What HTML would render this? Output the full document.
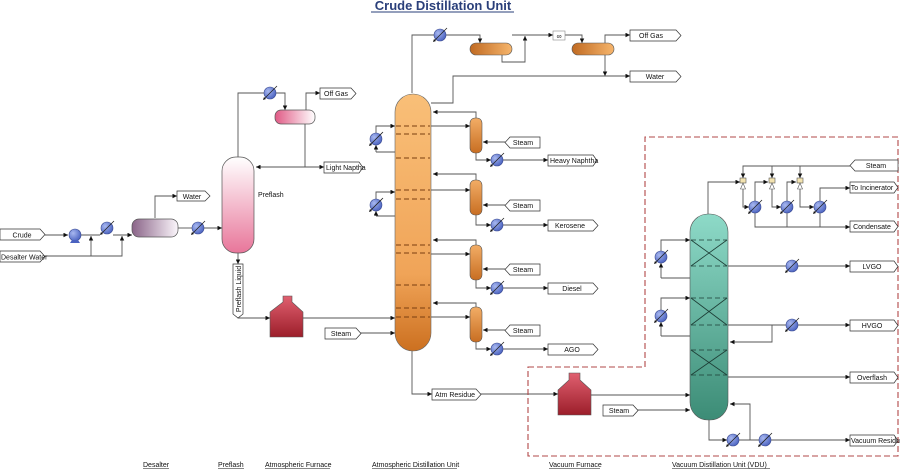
<!DOCTYPE html>
<html><head><meta charset="utf-8"><style>
html,body{margin:0;padding:0;background:#fff}
svg{display:block}
text{font-family:"Liberation Sans",sans-serif;font-size:7px;fill:#111}
</style></head><body>
<svg width="900" height="470" viewBox="0 0 900 470" xmlns="http://www.w3.org/2000/svg">
<defs>
<marker id="a" viewBox="0 0 6 6" refX="6" refY="3" markerWidth="5" markerHeight="5" orient="auto"><path d="M0,0L6,3L0,6z" fill="#111"/></marker>
<radialGradient id="gb" cx="0.35" cy="0.35" r="0.7"><stop offset="0" stop-color="#a8b8f0"/><stop offset="1" stop-color="#4a62c0"/></radialGradient>
<linearGradient id="gpk" x1="0" y1="0" x2="0" y2="1"><stop offset="0" stop-color="#fff"/><stop offset="1" stop-color="#e8769a"/></linearGradient>
<linearGradient id="gpk2" x1="0" y1="0" x2="1" y2="0"><stop offset="0" stop-color="#e05a85"/><stop offset="1" stop-color="#fff"/></linearGradient>
<linearGradient id="gpu" x1="0" y1="0" x2="1" y2="0"><stop offset="0" stop-color="#8a6488"/><stop offset="1" stop-color="#fbf6fb"/></linearGradient>
<linearGradient id="gor" x1="0" y1="0" x2="1" y2="0"><stop offset="0" stop-color="#c06a22"/><stop offset="1" stop-color="#f6b56c"/></linearGradient>
<linearGradient id="gorv" x1="0" y1="0" x2="0" y2="1"><stop offset="0" stop-color="#f2ad66"/><stop offset="1" stop-color="#c86e22"/></linearGradient>
<linearGradient id="gac" x1="0" y1="0" x2="0" y2="1"><stop offset="0" stop-color="#f9bf78"/><stop offset="0.7" stop-color="#f0a458"/><stop offset="1" stop-color="#cc7020"/></linearGradient>
<linearGradient id="gvc" x1="0" y1="0" x2="0" y2="1"><stop offset="0" stop-color="#8edac8"/><stop offset="1" stop-color="#3c8c76"/></linearGradient>
<linearGradient id="gfu" x1="0" y1="0" x2="0" y2="1"><stop offset="0" stop-color="#e06070"/><stop offset="1" stop-color="#9c1e2a"/></linearGradient>
<g id="hx"><circle r="6" fill="url(#gb)" stroke="#3a4a90" stroke-width="0.6"/><line x1="-6" y1="6" x2="7" y2="-7" stroke="#222" stroke-width="0.8"/><path d="M-7,7l1,-3l2,2z" fill="#111"/></g>
<g id="ej"><rect x="-3" y="-4" width="6" height="5" fill="#f2e2b0" stroke="#555" stroke-width="0.6"/><path d="M-2.5,7L0,1L2.5,7z" fill="#fff" stroke="#555" stroke-width="0.6"/></g>
</defs>

<text x="443" y="10" text-anchor="middle" style="font-size:13px;font-weight:bold;fill:#2a3f7a">Crude Distillation Unit</text>
<line x1="371" y1="12" x2="514" y2="12" stroke="#2a3f7a" stroke-width="1"/>

<g fill="none" stroke="#555" stroke-width="0.9">
<!-- desalter area -->
<polyline points="45,235 68,235" marker-end="url(#a)"/>
<polyline points="81,235 100,235"/>
<polyline points="113,235 132,235" marker-end="url(#a)"/>
<polyline points="45,256 122,256 122,236" marker-end="url(#a)"/>
<polyline points="91,256 91,236" marker-end="url(#a)"/>
<polyline points="155,218 155,196 177,196" marker-end="url(#a)"/>
<polyline points="178,228 192,228"/>
<polyline points="204,228 222,228" marker-end="url(#a)"/>
<!-- preflash -->
<polyline points="238,157 238,93 264,93"/>
<polyline points="276,93 285,93 285,110" marker-end="url(#a)"/>
<polyline points="306,110 306,93 320,93" marker-end="url(#a)"/>
<polyline points="305,124 305,167 256,167" marker-end="url(#a)"/>
<polyline points="305,167 324,167" marker-end="url(#a)"/>
<polyline points="238,252 238,264" marker-end="url(#a)"/>
<polyline points="238,317 238,318 270,318" marker-end="url(#a)"/>
<polyline points="303,318 395,318" marker-end="url(#a)"/>
<polyline points="360,333 395,333" marker-end="url(#a)"/>
<!-- atm top -->
<polyline points="412,93 412,35 434,35"/>
<polyline points="446,35 480,35 480,43" marker-end="url(#a)"/>
<polyline points="502,55 502,62 525,62 525,36" marker-end="url(#a)"/>
<polyline points="512,35 553,35" marker-end="url(#a)"/>
<polyline points="565,35 582,35 582,43" marker-end="url(#a)"/>
<polyline points="605,43 605,35 630,35" marker-end="url(#a)"/>
<polyline points="605,55 605,76" marker-end="url(#a)"/>
<polyline points="431,103 453,103 453,76 630,76" marker-end="url(#a)"/>
<!-- atm pumparounds -->
<polyline points="376,133 376,126 395,126" marker-end="url(#a)"/>
<polyline points="376,152 376,145" marker-end="url(#a)"/>
<polyline points="376,152 400,152 400,134"/>
<polyline points="376,199 376,192 395,192" marker-end="url(#a)"/>
<polyline points="376,216 376,211" marker-end="url(#a)"/>
<polyline points="376,216 400,216 400,200"/>
<!-- strippers -->
<polyline points="476,118 476,112 433,112" marker-end="url(#a)"/>
<polyline points="431,126 470,126" marker-end="url(#a)"/>
<polyline points="505,142 483,142" marker-end="url(#a)"/>
<polyline points="476,153 476,160 491,160" marker-end="url(#a)"/>
<polyline points="503,160 548,160" marker-end="url(#a)"/>
<polyline points="476,180 476,174 433,174" marker-end="url(#a)"/>
<polyline points="431,190 470,190" marker-end="url(#a)"/>
<polyline points="505,205 483,205" marker-end="url(#a)"/>
<polyline points="476,215 476,225 491,225" marker-end="url(#a)"/>
<polyline points="503,225 548,225" marker-end="url(#a)"/>
<polyline points="476,245 476,240 433,240" marker-end="url(#a)"/>
<polyline points="431,254 470,254" marker-end="url(#a)"/>
<polyline points="505,269 483,269" marker-end="url(#a)"/>
<polyline points="476,280 476,288 491,288" marker-end="url(#a)"/>
<polyline points="503,288 548,288" marker-end="url(#a)"/>
<polyline points="476,307 476,303 433,303" marker-end="url(#a)"/>
<polyline points="431,317 470,317" marker-end="url(#a)"/>
<polyline points="505,330 483,330" marker-end="url(#a)"/>
<polyline points="476,342 476,349 491,349" marker-end="url(#a)"/>
<polyline points="503,349 548,349" marker-end="url(#a)"/>
<!-- atm residue -->
<polyline points="412,350 412,394 432,394" marker-end="url(#a)"/>
<polyline points="480,394 558,394" marker-end="url(#a)"/>
<polyline points="591,395 690,395" marker-end="url(#a)"/>
<polyline points="636,410 690,410" marker-end="url(#a)"/>
<!-- vac top -->
<polyline points="708,214 708,182 740,182" marker-end="url(#a)"/>
<polyline points="850,166 743,166 743,178" marker-end="url(#a)"/>
<polyline points="772,166 772,178" marker-end="url(#a)"/>
<polyline points="800,166 800,178" marker-end="url(#a)"/>
<polyline points="743,188 743,207 749,207" marker-end="url(#a)"/>
<polyline points="755,201 755,182 768,182" marker-end="url(#a)"/>
<polyline points="772,188 772,207 781,207" marker-end="url(#a)"/>
<polyline points="787,201 787,182 796,182" marker-end="url(#a)"/>
<polyline points="800,188 800,207 814,207" marker-end="url(#a)"/>
<polyline points="820,201 820,188 850,188" marker-end="url(#a)"/>
<polyline points="755,213 755,227 850,227" marker-end="url(#a)"/>
<line x1="787" y1="213" x2="787" y2="227"/>
<line x1="820" y1="213" x2="820" y2="227"/>
<!-- vac pumparounds -->
<polyline points="661,251 661,240 690,240" marker-end="url(#a)"/>
<polyline points="661,278 661,263" marker-end="url(#a)"/>
<polyline points="661,278 695,278 695,266"/>
<polyline points="661,310 661,298 690,298" marker-end="url(#a)"/>
<polyline points="661,336 661,322" marker-end="url(#a)"/>
<polyline points="661,336 695,336 695,325"/>
<polyline points="728,266 786,266"/>
<polyline points="798,266 850,266" marker-end="url(#a)"/>
<polyline points="728,325 786,325"/>
<polyline points="798,325 850,325" marker-end="url(#a)"/>
<polyline points="772,325 772,342 730,342" marker-end="url(#a)"/>
<polyline points="728,377 850,377" marker-end="url(#a)"/>
<polyline points="709,420 709,440 727,440" marker-end="url(#a)"/>
<polyline points="739,440 759,440"/>
<polyline points="771,440 850,440" marker-end="url(#a)"/>
<polyline points="750,440 750,404 730,404" marker-end="url(#a)"/>
</g>

<!-- dashed VDU box -->
<path d="M528,367H645V137H898V456H528Z" fill="none" stroke="#b24848" stroke-width="1.1" stroke-dasharray="6,3"/>

<!-- equipment -->
<circle cx="75" cy="235" r="6" fill="url(#gb)" stroke="#3a4a90" stroke-width="0.6"/>
<path d="M70,243h10l-2,-3h-6z" fill="#4a62c0"/>
<rect x="132" y="219" width="46" height="18" rx="7" fill="url(#gpu)" stroke="#555" stroke-width="0.7"/>
<rect x="222" y="157" width="32" height="96" rx="14" fill="url(#gpk)" stroke="#555" stroke-width="0.7"/>
<rect x="275" y="110" width="40" height="14" rx="6" fill="url(#gpk2)" stroke="#555" stroke-width="0.7"/>
<path d="M283,296h9v6l11,10v25h-33v-25l13,-10z" fill="url(#gfu)" stroke="#555" stroke-width="0.6"/>
<path d="M569,373h11v7l11,10v25h-33v-25l11,-10z" fill="url(#gfu)" stroke="#555" stroke-width="0.6"/>

<rect x="395" y="94" width="36" height="257" rx="18" fill="url(#gac)" stroke="#666" stroke-width="0.6"/>
<g stroke="#7a3e10" stroke-width="0.9" stroke-dasharray="5,3">
<line x1="396" y1="126" x2="430" y2="126"/><line x1="396" y1="134" x2="430" y2="134"/><line x1="396" y1="158" x2="430" y2="158"/>
<line x1="396" y1="190" x2="430" y2="190"/><line x1="396" y1="199" x2="430" y2="199"/>
<line x1="396" y1="245" x2="430" y2="245"/><line x1="396" y1="253" x2="430" y2="253"/><line x1="396" y1="285" x2="430" y2="285"/>
<line x1="396" y1="308" x2="430" y2="308"/><line x1="396" y1="317" x2="430" y2="317"/>
</g>
<rect x="470" y="43" width="42" height="12" rx="6" fill="url(#gor)" stroke="#555" stroke-width="0.6"/>
<rect x="572" y="43" width="42" height="12" rx="6" fill="url(#gor)" stroke="#555" stroke-width="0.6"/>
<rect x="553" y="31" width="12" height="9" fill="#fff" stroke="#888" stroke-width="0.6"/>
<text x="559" y="38.5" text-anchor="middle" style="font-size:7px">∞</text>
<rect x="470" y="118" width="12" height="35" rx="5" fill="url(#gorv)" stroke="#555" stroke-width="0.6"/>
<rect x="470" y="180" width="12" height="35" rx="5" fill="url(#gorv)" stroke="#555" stroke-width="0.6"/>
<rect x="470" y="245" width="12" height="35" rx="5" fill="url(#gorv)" stroke="#555" stroke-width="0.6"/>
<rect x="470" y="307" width="12" height="35" rx="5" fill="url(#gorv)" stroke="#555" stroke-width="0.6"/>

<rect x="690" y="214" width="38" height="206" rx="18" fill="url(#gvc)" stroke="#555" stroke-width="0.6"/>
<g stroke="#1d3e36" stroke-width="0.8">
<g stroke-dasharray="5,3"><line x1="691" y1="240" x2="727" y2="240"/><line x1="691" y1="266" x2="727" y2="266"/><line x1="691" y1="298" x2="727" y2="298"/><line x1="691" y1="325" x2="727" y2="325"/><line x1="691" y1="350" x2="727" y2="350"/><line x1="691" y1="375" x2="727" y2="375"/></g>
<line x1="691" y1="240" x2="727" y2="266"/><line x1="727" y1="240" x2="691" y2="266"/>
<line x1="691" y1="298" x2="727" y2="325"/><line x1="727" y1="298" x2="691" y2="325"/>
<line x1="691" y1="350" x2="727" y2="375"/><line x1="727" y1="350" x2="691" y2="375"/>
</g>

<use href="#hx" x="107" y="228"/><use href="#hx" x="198" y="228"/><use href="#hx" x="270" y="93"/>
<use href="#hx" x="440" y="35"/><use href="#hx" x="376" y="139"/><use href="#hx" x="376" y="205"/>
<use href="#hx" x="497" y="160"/><use href="#hx" x="497" y="225"/><use href="#hx" x="497" y="288"/><use href="#hx" x="497" y="349"/>
<use href="#hx" x="755" y="207"/><use href="#hx" x="787" y="207"/><use href="#hx" x="820" y="207"/>
<use href="#hx" x="661" y="257"/><use href="#hx" x="661" y="316"/>
<use href="#hx" x="792" y="266"/><use href="#hx" x="792" y="325"/>
<use href="#hx" x="733" y="440"/><use href="#hx" x="765" y="440"/>
<use href="#ej" x="743" y="182"/><use href="#ej" x="772" y="182"/><use href="#ej" x="800" y="182"/>

<!-- stream labels -->
<g fill="#fff" stroke="#333" stroke-width="0.7">
<path d="M0,229h40l5,5.5l-5,5.5h-40z"/>
<path d="M0,251h40l5,5.5l-5,5.5h-40z"/>
<path d="M177,191h28l5,5l-5,5h-28z"/>
<path d="M320,88h31l5,5.5l-5,5.5h-31z"/>
<path d="M324,162h35l4,5.5l-4,5.5h-35z"/>
<path d="M233,264h10v50l-5,4l-5,-4z"/>
<path d="M325,328h31l5,5.5l-5,5.5h-31z"/>
<path d="M630,30h46l5,5.5l-5,5.5h-46z"/>
<path d="M630,71h46l5,5.5l-5,5.5h-46z"/>
<path d="M510,137h30v11h-30l-5,-5.5z"/>
<path d="M510,200h30v11h-30l-5,-5.5z"/>
<path d="M510,264h30v11h-30l-5,-5.5z"/>
<path d="M510,325h30v11h-30l-5,-5.5z"/>
<path d="M548,155h45l4,5.5l-4,5.5h-45z"/>
<path d="M548,220h45l5,5.5l-5,5.5h-45z"/>
<path d="M548,283h45l5,5.5l-5,5.5h-45z"/>
<path d="M548,344h45l5,5.5l-5,5.5h-45z"/>
<path d="M432,389h44l5,5.5l-5,5.5h-44z"/>
<path d="M603,405h30l5,5.5l-5,5.5h-30z"/>
<path d="M855,160h43v11h-43l-5,-5.5z"/>
<path d="M850,182h44l4,5.5l-4,5.5h-44z"/>
<path d="M850,221h44l4,5.5l-4,5.5h-44z"/>
<path d="M850,261h44l4,5.5l-4,5.5h-44z"/>
<path d="M850,320h44l4,5.5l-4,5.5h-44z"/>
<path d="M850,372h44l4,5.5l-4,5.5h-44z"/>
<path d="M850,435h44l4,5.5l-4,5.5h-44z"/>
</g>
<text x="22" y="237.5" text-anchor="middle">Crude</text>
<text x="1" y="259.5">Desalter Water</text>
<text x="192" y="199" text-anchor="middle">Water</text>
<text x="336" y="96" text-anchor="middle">Off Gas</text>
<text x="326" y="170">Light Naptha</text>
<text x="258" y="197">Preflash</text>
<text transform="translate(241,289) rotate(-90)" text-anchor="middle">Preflash Liquid</text>
<text x="341" y="336" text-anchor="middle">Steam</text>
<text x="651" y="38" text-anchor="middle">Off Gas</text>
<text x="655" y="79" text-anchor="middle">Water</text>
<text x="523" y="145" text-anchor="middle">Steam</text>
<text x="523" y="208" text-anchor="middle">Steam</text>
<text x="523" y="272" text-anchor="middle">Steam</text>
<text x="523" y="333" text-anchor="middle">Steam</text>
<text x="550" y="163">Heavy Naphtha</text>
<text x="570" y="228" text-anchor="middle">Kerosene</text>
<text x="572" y="291" text-anchor="middle">Diesel</text>
<text x="572" y="352" text-anchor="middle">AGO</text>
<text x="455" y="397" text-anchor="middle">Atm Residue</text>
<text x="619" y="413" text-anchor="middle">Steam</text>
<text x="876" y="168" text-anchor="middle">Steam</text>
<text x="872" y="190" text-anchor="middle">To Incinerator</text>
<text x="872" y="229" text-anchor="middle">Condensate</text>
<text x="872" y="269" text-anchor="middle">LVGO</text>
<text x="872" y="328" text-anchor="middle">HVGO</text>
<text x="872" y="380" text-anchor="middle">Overflash</text>
<text x="851" y="443">Vacuum Residue</text>

<g style="font-size:6.5px">
<text x="143" y="467">Desalter</text>
<text x="218" y="467">Preflash</text>
<text x="265" y="467">Atmospheric Furnace</text>
<text x="372" y="467">Atmospheric Distillation Unit</text>
<text x="549" y="467">Vacuum Furnace</text>
<text x="672" y="467">Vacuum Distillation Unit (VDU)</text>
</g>
<g stroke="#111" stroke-width="0.5">
<line x1="143" y1="468.5" x2="169" y2="468.5"/><line x1="218" y1="468.5" x2="244" y2="468.5"/><line x1="265" y1="468.5" x2="330" y2="468.5"/><line x1="372" y1="468.5" x2="457" y2="468.5"/><line x1="549" y1="468.5" x2="600" y2="468.5"/><line x1="672" y1="468.5" x2="770" y2="468.5"/>
</g>
</svg>
</body></html>
